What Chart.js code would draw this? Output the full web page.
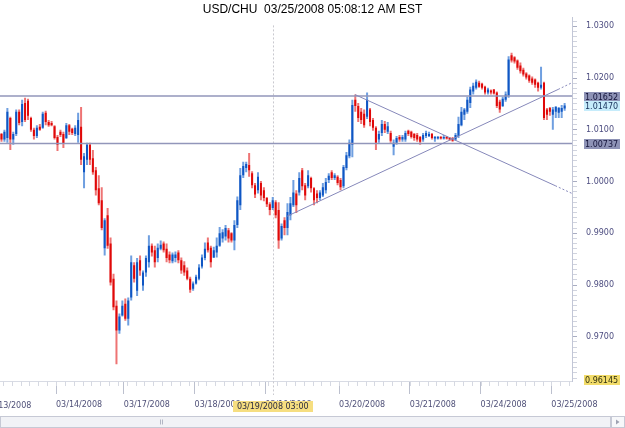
<!DOCTYPE html>
<html>
<head>
<meta charset="utf-8">
<script src="https://cdn.jsdelivr.net/npm/chart.js@4.4.1/dist/chart.umd.min.js"></script>
<style>
  html, body { margin: 0; padding: 0; background: #fff; }
</style>
</head>
<body>
<canvas id="fx" width="625" height="428"></canvas>
<script>
// USD/CHU hourly candles, 03/13/2008 - 03/25/2008 (one entry per hour bar)
const opens = [
  1.0092, 1.0081, 1.0084, 1.0123, 1.0081, 1.0092, 1.0135, 1.0115, 1.0152, 1.0156, 1.0123, 1.0100,
  1.0088, 1.0106, 1.0104, 1.0133, 1.0115, 1.0113, 1.0107, 1.0086, 1.0096, 1.0092, 1.0084, 1.0109,
  1.0102, 1.0092, 1.0090, 1.0106, 1.0018, 1.0042, 1.0071, 1.0045, 1.0022, 0.9987, 0.9964, 0.9871,
  0.9935, 0.9880, 0.9812, 0.9760, 0.9712, 0.9741, 0.9764, 0.9735, 0.9776, 0.9838, 0.9789, 0.9848,
  0.9799, 0.9824, 0.9844, 0.9876, 0.9867, 0.9852, 0.9870, 0.9880, 0.9870, 0.9859, 0.9846, 0.9852,
  0.9863, 0.9848, 0.9838, 0.9828, 0.9812, 0.9793, 0.9803, 0.9812, 0.9836, 0.9852, 0.9882, 0.9872,
  0.9853, 0.9863, 0.9876, 0.9890, 0.9894, 0.9906, 0.9900, 0.9886, 0.9916, 0.9954, 1.0012, 1.0026,
  1.0032, 1.0016, 0.9993, 0.9983, 0.9997, 0.9983, 0.9968, 0.9956, 0.9949, 0.9960, 0.9945, 0.9890,
  0.9925, 0.9910, 0.9935, 0.9954, 0.9977, 0.9979, 1.0022, 0.9993, 0.9991, 1.0007, 0.9987, 0.9977,
  0.9968, 0.9973, 0.9983, 1.0003, 1.0018, 1.0007, 1.0009, 1.0003, 0.9991, 1.0026, 1.0049, 1.0071,
  1.0158, 1.0146, 1.0135, 1.0131, 1.0125, 1.0139, 1.0119, 1.0104, 1.0081, 1.0094, 1.0111, 1.0096,
  1.0094, 1.0067, 1.0075, 1.0086, 1.0081, 1.0081, 1.0098, 1.0096, 1.0092, 1.0090, 1.0086, 1.0081,
  1.0088, 1.0088, 1.0092, 1.0083, 1.0083, 1.0086, 1.0083, 1.0086, 1.0084, 1.0084, 1.0081, 1.0088,
  1.0109, 1.0129, 1.0135, 1.0152, 1.0174, 1.0181, 1.0191, 1.0189, 1.0183, 1.0172, 1.0176, 1.0178,
  1.0172, 1.0154, 1.0146, 1.0158, 1.0166, 1.0244, 1.0240, 1.0234, 1.0224, 1.0216, 1.0209, 1.0205,
  1.0199, 1.0197, 1.0191, 1.0181, 1.0191, 1.0139, 1.0142, 1.0129, 1.0135, 1.0133, 1.0135, 1.0141
];
const highs = [
  1.0094, 1.0100, 1.0142, 1.0125, 1.0096, 1.0139, 1.0139, 1.0158, 1.0162, 1.0160, 1.0125, 1.0104,
  1.0109, 1.0111, 1.0135, 1.0137, 1.0119, 1.0117, 1.0109, 1.0090, 1.0100, 1.0096, 1.0113, 1.0111,
  1.0104, 1.0109, 1.0133, 1.0144, 1.0055, 1.0075, 1.0075, 1.0061, 1.0028, 1.0012, 0.9989, 0.9929,
  0.9949, 0.9892, 0.9822, 0.9770, 0.9745, 0.9770, 0.9774, 0.9776, 0.9857, 0.9844, 0.9852, 0.9857,
  0.9828, 0.9857, 0.9896, 0.9880, 0.9876, 0.9880, 0.9886, 0.9884, 0.9880, 0.9865, 0.9863, 0.9865,
  0.9867, 0.9853, 0.9846, 0.9834, 0.9816, 0.9807, 0.9820, 0.9840, 0.9859, 0.9882, 0.9892, 0.9876,
  0.9874, 0.9892, 0.9912, 0.9908, 0.9916, 0.9910, 0.9902, 0.9925, 0.9971, 1.0026, 1.0038, 1.0038,
  1.0055, 1.0020, 0.9997, 1.0018, 1.0001, 0.9989, 0.9970, 0.9960, 0.9970, 0.9964, 0.9960, 0.9919,
  0.9931, 0.9958, 0.9970, 1.0003, 0.9983, 1.0018, 1.0026, 0.9997, 1.0022, 1.0009, 0.9989, 0.9983,
  0.9983, 0.9997, 1.0007, 1.0016, 1.0022, 1.0016, 1.0012, 1.0007, 1.0032, 1.0057, 1.0081, 1.0158,
  1.0168, 1.0152, 1.0142, 1.0139, 1.0172, 1.0142, 1.0123, 1.0107, 1.0098, 1.0119, 1.0117, 1.0115,
  1.0098, 1.0081, 1.0088, 1.0090, 1.0090, 1.0098, 1.0100, 1.0098, 1.0094, 1.0094, 1.0088, 1.0094,
  1.0098, 1.0096, 1.0094, 1.0088, 1.0088, 1.0088, 1.0090, 1.0088, 1.0086, 1.0086, 1.0094, 1.0125,
  1.0144, 1.0142, 1.0164, 1.0183, 1.0191, 1.0197, 1.0195, 1.0191, 1.0185, 1.0181, 1.0178, 1.0179,
  1.0174, 1.0158, 1.0164, 1.0174, 1.0242, 1.0249, 1.0242, 1.0236, 1.0230, 1.0220, 1.0211, 1.0207,
  1.0203, 1.0199, 1.0193, 1.0222, 1.0193, 1.0142, 1.0144, 1.0144, 1.0146, 1.0144, 1.0148, 1.0152
];
const lows = [
  1.0077, 1.0077, 1.0075, 1.0061, 1.0071, 1.0088, 1.0109, 1.0107, 1.0115, 1.0119, 1.0096, 1.0081,
  1.0084, 1.0098, 1.0102, 1.0109, 1.0106, 1.0107, 1.0081, 1.0059, 1.0086, 1.0065, 1.0082, 1.0090,
  1.0090, 1.0088, 1.0075, 1.0032, 0.9987, 1.0032, 1.0032, 1.0013, 0.9973, 0.9954, 0.9906, 0.9857,
  0.9870, 0.9799, 0.9751, 0.9647, 0.9706, 0.9739, 0.9731, 0.9722, 0.9770, 0.9805, 0.9779, 0.9818,
  0.9789, 0.9816, 0.9834, 0.9855, 0.9834, 0.9844, 0.9867, 0.9863, 0.9844, 0.9842, 0.9842, 0.9844,
  0.9842, 0.9822, 0.9818, 0.9809, 0.9785, 0.9789, 0.9801, 0.9809, 0.9832, 0.9848, 0.9863, 0.9834,
  0.9852, 0.9853, 0.9874, 0.9882, 0.9886, 0.9882, 0.9882, 0.9867, 0.9910, 0.9945, 1.0007, 1.0018,
  1.0009, 0.9987, 0.9968, 0.9977, 0.9964, 0.9962, 0.9951, 0.9935, 0.9945, 0.9929, 0.9870, 0.9886,
  0.9896, 0.9896, 0.9925, 0.9951, 0.9939, 0.9973, 0.9983, 0.9964, 0.9987, 0.9979, 0.9954, 0.9958,
  0.9964, 0.9970, 0.9977, 0.9997, 1.0003, 1.0003, 0.9993, 0.9983, 0.9987, 1.0022, 1.0045, 1.0047,
  1.0135, 1.0115, 1.0111, 1.0104, 1.0121, 1.0107, 1.0098, 1.0061, 1.0075, 1.0088, 1.0094, 1.0092,
  1.0075, 1.0051, 1.0071, 1.0077, 1.0077, 1.0077, 1.0088, 1.0083, 1.0079, 1.0077, 1.0071, 1.0077,
  1.0084, 1.0086, 1.0081, 1.0077, 1.0081, 1.0081, 1.0081, 1.0081, 1.0079, 1.0077, 1.0079, 1.0084,
  1.0107, 1.0119, 1.0131, 1.0142, 1.0168, 1.0178, 1.0181, 1.0178, 1.0168, 1.0168, 1.0168, 1.0168,
  1.0142, 1.0133, 1.0144, 1.0154, 1.0162, 1.0230, 1.0228, 1.0216, 1.0209, 1.0203, 1.0197, 1.0191,
  1.0187, 1.0181, 1.0174, 1.0178, 1.0119, 1.0119, 1.0127, 1.0100, 1.0123, 1.0123, 1.0123, 1.0137
];
const closes = [
  1.0081, 1.0096, 1.0135, 1.0081, 1.0092, 1.0135, 1.0113, 1.0150, 1.0119, 1.0127, 1.0100, 1.0088,
  1.0104, 1.0100, 1.0131, 1.0115, 1.0109, 1.0109, 1.0084, 1.0071, 1.0090, 1.0073, 1.0109, 1.0096,
  1.0094, 1.0104, 1.0119, 1.0042, 1.0049, 1.0071, 1.0042, 1.0018, 0.9983, 0.9958, 0.9910, 0.9925,
  0.9876, 0.9805, 0.9757, 0.9712, 0.9739, 0.9760, 0.9735, 0.9770, 0.9844, 0.9812, 0.9844, 0.9828,
  0.9824, 0.9852, 0.9876, 0.9863, 0.9844, 0.9872, 0.9878, 0.9867, 0.9852, 0.9848, 0.9859, 0.9859,
  0.9848, 0.9828, 0.9824, 0.9812, 0.9791, 0.9803, 0.9816, 0.9834, 0.9853, 0.9870, 0.9867, 0.9844,
  0.9867, 0.9876, 0.9900, 0.9902, 0.9910, 0.9890, 0.9886, 0.9916, 0.9964, 1.0012, 1.0030, 1.0034,
  1.0022, 0.9993, 0.9975, 1.0009, 0.9973, 0.9968, 0.9956, 0.9945, 0.9964, 0.9935, 0.9886, 0.9914,
  0.9910, 0.9941, 0.9958, 0.9979, 0.9954, 1.0007, 0.9991, 0.9973, 1.0012, 0.9987, 0.9964, 0.9968,
  0.9979, 0.9989, 0.9999, 1.0011, 1.0007, 1.0012, 0.9997, 0.9989, 1.0028, 1.0051, 1.0075, 1.0148,
  1.0146, 1.0123, 1.0119, 1.0109, 1.0158, 1.0115, 1.0104, 1.0075, 1.0092, 1.0111, 1.0100, 1.0107,
  1.0079, 1.0075, 1.0084, 1.0081, 1.0086, 1.0094, 1.0092, 1.0086, 1.0084, 1.0081, 1.0077, 1.0090,
  1.0094, 1.0092, 1.0084, 1.0086, 1.0086, 1.0083, 1.0086, 1.0083, 1.0081, 1.0079, 1.0090, 1.0111,
  1.0135, 1.0139, 1.0158, 1.0178, 1.0185, 1.0193, 1.0183, 1.0181, 1.0172, 1.0178, 1.0172, 1.0170,
  1.0146, 1.0139, 1.0160, 1.0168, 1.0236, 1.0234, 1.0232, 1.0220, 1.0213, 1.0207, 1.0201, 1.0195,
  1.0191, 1.0187, 1.0181, 1.0187, 1.0123, 1.0129, 1.0135, 1.0139, 1.0144, 1.0142, 1.0142, 1.0147
];

// day boundaries on the bar index axis, with their labels
// (the first day starts before the visible range; its label is clipped at the left edge)
const dayTicks = [-5.5, 18.5, 41.5, 65.5, 89.5, 114.5, 138.5, 162.5, 186.5];
const dayLabels = ['03/13/2008', '03/14/2008', '03/17/2008', '03/18/2008', '03/19/2008',
                   '03/20/2008', '03/21/2008', '03/24/2008', '03/25/2008'];

// labelled prices on the right axis
const priceLabels = [0.97, 0.98, 0.99, 1.00, 1.01, 1.02, 1.03];

// flagged levels on the price axis (high line, last price, low line, axis minimum)
const flagLevels = [1.01652, 1.01470, 1.00737, 0.96145];

// horizontal lines drawn across the plot
const hLevels = [1.01652, 1.00737];

// trend lines as [barIndex, price]; the last segment is drawn dotted
const upTrend = [[96.9, 0.9933], [188.8, 1.0178], [193.5, 1.0191]];
const downTrend = [[119.9, 1.0168], [187.8, 0.9992], [193.5, 0.9977]];

// crosshair position (bar index) and its time label
const crosshairIndex = 92;
const crosshairLabel = '03/19/2008 03:00';

const N_SLOTS = 194;
const AXIS_FONT = '8px "DejaVu Sans"';

Chart.defaults.font.family = '"DejaVu Sans", Verdana, sans-serif';

const isUp = closes.map((c, i) => c >= opens[i]);
const wickData = opens.map((_, i) => ({ x: i, y: [lows[i], highs[i]] }));
const bodyData = opens.map((_, i) => ({ x: i, y: [opens[i], closes[i]] }));

// only ticks inside the visible range go to the axis itself
const inRange = v => v >= -0.5 && v <= N_SLOTS - 0.5;
const axisTicks = dayTicks.filter(inRange);
const axisLabels = dayLabels.filter((_, i) => inRange(dayTicks[i]));

const trendSet = (pts) => ({
  type: 'line',
  data: pts.map(p => ({ x: p[0], y: p[1] })),
  borderColor: '#8688ba',
  borderWidth: 1,
  pointRadius: 0,
  segment: { borderDash: ctx => ctx.p0DataIndex === 1 ? [2, 2] : [] },
  order: 0
});

const levelSet = (v) => ({
  type: 'line',
  data: [{ x: -0.5, y: v }, { x: N_SLOTS - 0.5, y: v }],
  borderColor: '#9296ba',
  borderWidth: 1.5,
  pointRadius: 0,
  order: 0
});

const decor = {
  id: 'decor',
  beforeDatasetsDraw(chart) {
    const { ctx, chartArea, scales: { x } } = chart;
    const cx = Math.round(x.getPixelForValue(crosshairIndex)) + 0.5;
    ctx.save();
    ctx.strokeStyle = '#c9c9cf';
    ctx.lineWidth = 1;
    ctx.setLineDash([2, 2]);
    ctx.beginPath();
    ctx.moveTo(cx, chartArea.top + 8);
    ctx.lineTo(cx, chartArea.bottom + 14);
    ctx.stroke();
    ctx.restore();
  },
  afterDraw(chart) {
    const { ctx, chartArea, scales: { x, y } } = chart;
    ctx.save();

    // 3-hour ticks below the plot
    ctx.strokeStyle = '#d6d9e2';
    ctx.lineWidth = 1;
    for (let v = 0.5; v < N_SLOTS - 0.5; v += 3) {
      const px = Math.round(x.getPixelForValue(v)) + 0.5;
      ctx.beginPath();
      ctx.moveTo(px, chartArea.bottom);
      ctx.lineTo(px, chartArea.bottom + 5);
      ctx.stroke();
    }

    // day labels whose boundary lies left of the plot
    ctx.font = AXIS_FONT;
    ctx.fillStyle = '#4f5078';
    ctx.textAlign = 'left';
    ctx.textBaseline = 'middle';
    dayTicks.forEach((v, i) => {
      if (!inRange(v)) ctx.fillText(dayLabels[i], x.getPixelForValue(v), chartArea.bottom + 25);
    });

    // crosshair time label on the time axis
    const cx = x.getPixelForValue(crosshairIndex);
    const lw = ctx.measureText(crosshairLabel).width + 8;
    const ly = chartArea.bottom + 20;
    ctx.fillStyle = '#f6de80';
    ctx.fillRect(Math.round(cx - lw / 2), ly, Math.round(lw), 11);
    ctx.fillStyle = '#2a2a40';
    ctx.textAlign = 'center';
    ctx.fillText(crosshairLabel, cx, ly + 5.5);

    // flags on the price axis
    const flagStyle = [['#8e93b6', '#14143a'], ['#c6ecfb', '#16305a'], ['#8e93b6', '#14143a'], ['#f2dc6a', '#303010']];
    ctx.textAlign = 'left';
    flagLevels.forEach((v, k) => {
      const py = Math.min(y.getPixelForValue(v), chartArea.bottom - 2);
      ctx.fillStyle = flagStyle[k][0];
      ctx.fillRect(chartArea.right + 12, Math.round(py - 4.5), 36, 10);
      ctx.fillStyle = flagStyle[k][1];
      ctx.fillText(v.toFixed(5), chartArea.right + 13, Math.round(py - 4.5) + 5.5);
    });

    // scrollbar along the bottom
    const sy = 416.5;
    ctx.fillStyle = '#f1f2f6';
    ctx.strokeStyle = '#c6c9d5';
    ctx.fillRect(0.5, sy, 610, 11);
    ctx.strokeRect(0.5, sy, 610, 11);
    ctx.fillStyle = '#f7f8fa';
    ctx.fillRect(611.5, sy, 13, 11);
    ctx.strokeRect(611.5, sy, 13, 11);
    ctx.strokeStyle = '#b2b6c4';
    [160.5, 162.5].forEach(gx => {
      ctx.beginPath();
      ctx.moveTo(gx, sy + 3);
      ctx.lineTo(gx, sy + 8);
      ctx.stroke();
    });
    ctx.fillStyle = '#9ea2b2';
    ctx.beginPath();
    ctx.moveTo(616, sy + 3);
    ctx.lineTo(619.5, sy + 5.5);
    ctx.lineTo(616, sy + 8);
    ctx.closePath();
    ctx.fill();

    ctx.restore();
  }
};

new Chart(document.getElementById('fx').getContext('2d'), {
  type: 'bar',
  data: {
    datasets: [
      trendSet(upTrend),
      trendSet(downTrend),
      ...hLevels.map(levelSet),
      {
        data: bodyData,
        backgroundColor: isUp.map(u => u ? '#0f56c4' : '#e00808'),
        barThickness: 2,
        inflateAmount: 0,
        grouped: false,
        borderWidth: 0,
        order: 1
      },
      {
        data: wickData,
        backgroundColor: isUp.map(u => u ? '#6f9fe0' : '#ee7474'),
        barThickness: 2,
        inflateAmount: 0,
        grouped: false,
        borderWidth: 0,
        order: 2
      }
    ]
  },
  options: {
    responsive: false,
    animation: false,
    layout: { padding: 0 },
    plugins: {
      legend: { display: false },
      tooltip: { enabled: false },
      title: {
        display: true,
        text: 'USD/CHU  03/25/2008 05:08:12 AM EST',
        color: '#000',
        font: { family: '"Liberation Sans", Arial, sans-serif', size: 12, weight: 'normal' },
        padding: { top: 2, bottom: 1 }
      }
    },
    scales: {
      x: {
        type: 'linear',
        position: 'bottom',
        offset: false,
        min: -0.5,
        max: N_SLOTS - 0.5,
        grid: { offset: false, drawOnChartArea: false, drawTicks: true, tickLength: 13, tickColor: '#bcc0ce' },
        border: { display: true, color: '#d8dbe4' },
        ticks: {
          autoSkip: false,
          maxRotation: 0,
          align: 'start',
          padding: 6,
          color: '#4f5078',
          font: { size: 8 },
          callback: (v, i) => axisLabels[i]
        },
        afterBuildTicks: s => { s.ticks = axisTicks.map(v => ({ value: v })); },
        afterFit: s => { s.height = 47; }
      },
      y: {
        type: 'linear',
        position: 'right',
        min: 0.96145,
        max: 1.03172,
        grid: {
          drawOnChartArea: false,
          drawTicks: true,
          tickLength: 5,
          tickColor: c => priceLabels.some(p => Math.abs(p - c.tick.value) < 1e-9) ? '#a9adc2' : '#d0d3de'
        },
        border: { display: true, color: '#c2c6d6' },
        ticks: {
          autoSkip: false,
          padding: 9,
          color: '#4d4d80',
          font: { size: 8 },
          callback: v => priceLabels.some(p => Math.abs(p - v) < 1e-9) ? v.toFixed(4) : ''
        },
        afterBuildTicks: s => {
          const t = [];
          for (let k = 962; k <= 1031; k++) t.push({ value: k / 1000 });
          s.ticks = t;
        },
        afterFit: s => { s.width = 53; s.paddingTop = 0; s.paddingBottom = 0; }
      }
    }
  },
  plugins: [decor]
});
</script>
</body>
</html>
